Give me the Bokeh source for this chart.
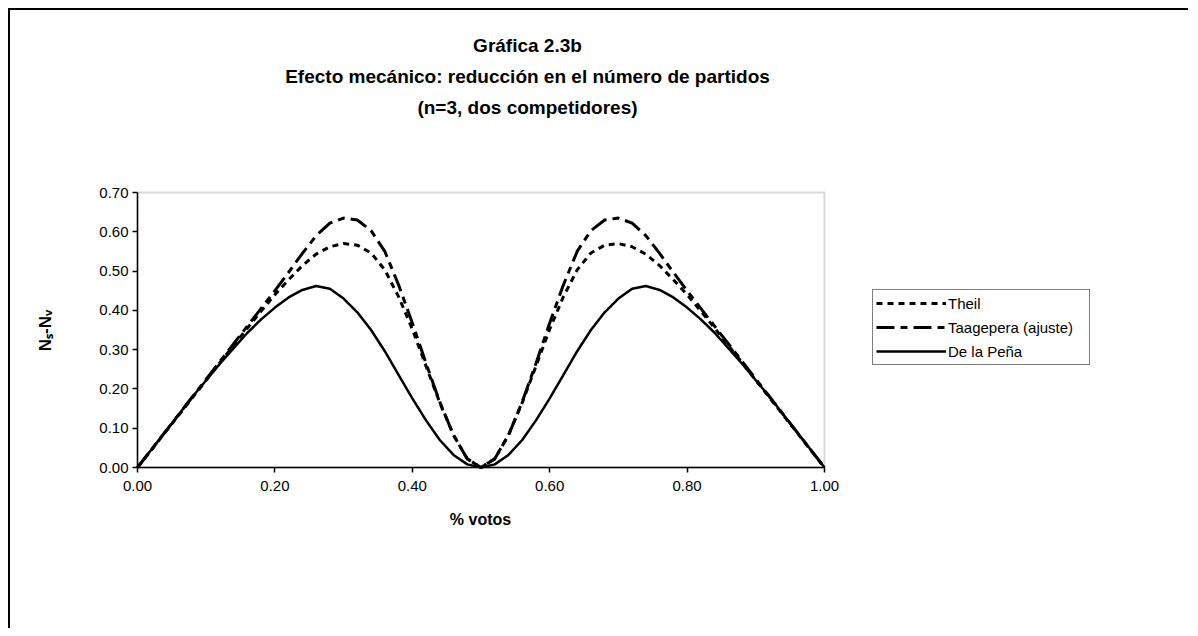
import math
from bokeh.plotting import figure
from bokeh.models import (Legend, LegendItem, FixedTicker, NumeralTickFormatter, Range1d,
                          Label, BoxAnnotation)
from bokeh.embed import file_html
from bokeh.resources import INLINE

# ---------------- data ----------------
x_votos = [0.00, 0.02, 0.04, 0.06, 0.08, 0.10, 0.12, 0.14, 0.16, 0.18,
           0.20, 0.22, 0.24, 0.26, 0.28, 0.30, 0.32, 0.34, 0.36, 0.38,
           0.40, 0.42, 0.44, 0.46, 0.48, 0.50, 0.52, 0.54, 0.56, 0.58,
           0.60, 0.62, 0.64, 0.66, 0.68, 0.70, 0.72, 0.74, 0.76, 0.78,
           0.80, 0.82, 0.84, 0.86, 0.88, 0.90, 0.92, 0.94, 0.96, 0.98, 1.00]

theil = [0.000, 0.044, 0.089, 0.133, 0.178, 0.222, 0.267, 0.311, 0.355, 0.398,
         0.440, 0.478, 0.514, 0.543, 0.562, 0.570, 0.566, 0.546, 0.503, 0.435,
         0.352, 0.258, 0.165, 0.083, 0.022, 0.000, 0.022, 0.083, 0.165, 0.258,
         0.352, 0.435, 0.503, 0.546, 0.566, 0.570, 0.562, 0.543, 0.514, 0.478,
         0.440, 0.398, 0.355, 0.311, 0.267, 0.222, 0.178, 0.133, 0.089, 0.044, 0.000]

taagepera = [0.000, 0.045, 0.090, 0.135, 0.180, 0.225, 0.270, 0.315, 0.360, 0.405,
             0.450, 0.497, 0.545, 0.590, 0.622, 0.635, 0.630, 0.603, 0.550, 0.465,
             0.368, 0.265, 0.167, 0.082, 0.022, 0.000, 0.022, 0.082, 0.167, 0.265,
             0.368, 0.465, 0.550, 0.603, 0.630, 0.635, 0.622, 0.590, 0.545, 0.497,
             0.450, 0.405, 0.360, 0.315, 0.270, 0.225, 0.180, 0.135, 0.090, 0.045, 0.000]

de_la_pena = [0.000, 0.045, 0.090, 0.135, 0.180, 0.222, 0.264, 0.304, 0.343, 0.377,
              0.407, 0.433, 0.452, 0.462, 0.455, 0.430, 0.395, 0.350, 0.296, 0.236,
              0.176, 0.120, 0.070, 0.032, 0.008, 0.000, 0.008, 0.032, 0.070, 0.120,
              0.176, 0.236, 0.296, 0.350, 0.395, 0.430, 0.455, 0.462, 0.452, 0.433,
              0.407, 0.377, 0.343, 0.304, 0.264, 0.222, 0.180, 0.135, 0.090, 0.045, 0.000]

x_ticks = [0.0, 0.2, 0.4, 0.6, 0.8, 1.0]
y_ticks = [0.0, 0.1, 0.2, 0.3, 0.4, 0.5, 0.6, 0.7]

series_names = ["Theil", "Taagepera (ajuste)", "De la Peña"]
title_lines = ["Gráfica 2.3b",
               "Efecto mecánico: reducción en el número de partidos",
               "(n=3, dos competidores)"]
x_label = "% votos"
y_label = "Nₛ-Nᵥ"

# ---------------- geometry ----------------
FONT = "Liberation Sans"
W, H = 1180, 620                 # chart area (page offset 10,10 after margin + border)
PX_X = 687.0                     # pixels per 1.0 of x
PX_Y = 275.0 / 0.7               # pixels per 1.0 of y
AX_LEFT, AX_BOTTOM = 127, 457    # plot-area origin inside the chart area (px)

def data_x(px):
    return (px - AX_LEFT) / PX_X

def data_y(py):
    return (AX_BOTTOM - py) / PX_Y

p = figure(width=W, height=H, output_backend="svg", toolbar_location=None,
           x_range=Range1d(data_x(0), data_x(W)), y_range=Range1d(data_y(H), data_y(0)),
           min_border=0, min_border_left=0, min_border_right=0,
           min_border_top=0, min_border_bottom=0)
p.styles = {"margin-left": "8px", "margin-top": "8px",
            "border-top": "2px solid black", "border-left": "2px solid black"}

p.grid.visible = False
p.outline_line_color = None
p.background_fill_color = "white"
p.border_fill_color = "white"

# plot-area border (gray, Excel style)
p.add_layout(BoxAnnotation(left=x_ticks[0], right=x_ticks[-1], bottom=y_ticks[0], top=y_ticks[-1],
                           fill_alpha=0, line_color="#808080", line_width=2, level="underlay"))

for ax in (p.xaxis[0], p.yaxis[0]):
    ax.formatter = NumeralTickFormatter(format="0.00")
    ax.axis_line_color = "black"
    ax.axis_line_width = 1.5
    ax.major_tick_line_color = "black"
    ax.major_tick_line_width = 1.5
    ax.major_tick_out = 5
    ax.major_tick_in = 0
    ax.minor_tick_line_color = None
    ax.major_label_text_font = FONT
    ax.major_label_text_font_size = "15px"
    ax.major_label_text_color = "black"
    ax.fixed_location = 0

p.xaxis.ticker = FixedTicker(ticks=x_ticks)
p.yaxis.ticker = FixedTicker(ticks=y_ticks)
p.xaxis.bounds = (x_ticks[0], x_ticks[-1])
p.yaxis.bounds = (y_ticks[0], y_ticks[-1])
p.xaxis.major_label_standoff = 8
p.yaxis.major_label_standoff = 4

r1 = p.line(x_votos, theil, line_color="black", line_width=3, line_dash="6 5")
r2 = p.line(x_votos, taagepera, line_color="black", line_width=3, line_dash="18 6 7 6")
r3 = p.line(x_votos, de_la_pena, line_color="black", line_width=2.5)

legend = Legend(items=[LegendItem(label=series_names[0], renderers=[r1]),
                       LegendItem(label=series_names[1], renderers=[r2]),
                       LegendItem(label=series_names[2], renderers=[r3])],
                location=(862, 265), margin=0,
                border_line_color="black", border_line_width=1,
                background_fill_color="white", background_fill_alpha=1,
                padding=3, spacing=4,
                glyph_width=70, glyph_height=20, label_height=20, label_standoff=2,
                label_width=138,
                label_text_font=FONT, label_text_font_size="15px", label_text_color="black")
p.add_layout(legend, "center")

# titles
for txt, py in zip(title_lines, [35, 66, 97]):
    p.add_layout(Label(x=data_x(517), y=data_y(py), text=txt, text_align="center",
                       text_baseline="middle", text_font=FONT, text_font_size="19px",
                       text_font_style="bold", text_color="black"))

# axis titles
p.add_layout(Label(x=data_x(470), y=data_y(509), text=x_label, text_align="center",
                   text_baseline="middle", text_font=FONT, text_font_size="16px",
                   text_font_style="bold", text_color="black"))
p.add_layout(Label(x=data_x(35), y=data_y(320), text=y_label, text_align="center",
                   text_baseline="middle", angle=math.pi / 2, text_font=FONT,
                   text_font_size="17px", text_font_style="bold", text_color="black"))

open("out.html", "w").write(file_html(p, INLINE))
